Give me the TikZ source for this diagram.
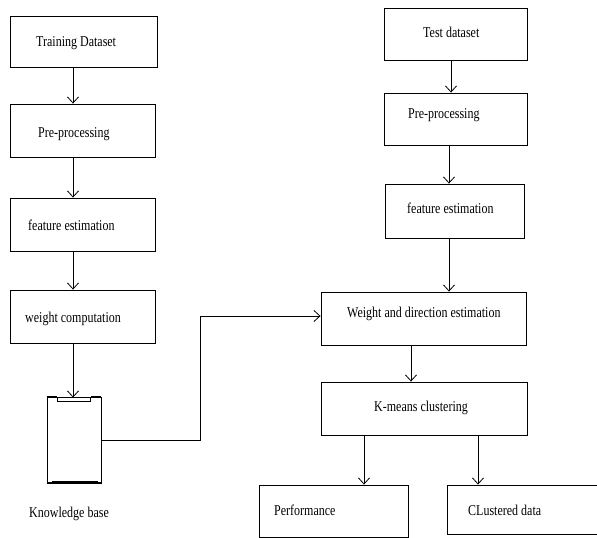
\documentclass[tikz,border=0pt]{standalone}
\usepackage{fontspec}
\setmainfont{Liberation Serif}[FakeStretch=0.8]
\usetikzlibrary{arrows.meta}
\begin{document}
\begin{tikzpicture}[x=1pt,y=-1pt,
  box/.style={draw,line width=0.9pt,minimum width=#1,inner sep=0pt},
  lbl/.style={anchor=base west,inner sep=0pt,font=\fontsize{15}{17}\selectfont},
  arr/.style={line width=0.8pt,-{Straight Barb[length=6pt,width=11pt,line width=0.8pt]}},
  ln/.style={line width=0.8pt}]
\useasboundingbox (0,0) rectangle (597,538);
% left column boxes
\node[box=147pt,minimum height=51pt] (td) at (83.5,41.5) {};
\node[box=145pt,minimum height=53pt] (pp1) at (82.5,130.5) {};
\node[box=145pt,minimum height=53pt] (fe1) at (82.5,224.5) {};
\node[box=145pt,minimum height=53pt] (wc) at (82.5,316.5) {};
% knowledge base
\node[box=54pt,minimum height=86pt] (kb) at (74,440) {};
\draw[line width=2pt] (kb.north west) -- ++(10,0) (kb.north east) -- ++(-10,0);
\draw[line width=0.7pt,fill=white] (57,397) rectangle (90,401.5);
\draw[line width=2pt] (kb.south west) -- (kb.south east);
\draw[line width=0.7pt] (52,481) -- (98,481);
% right column boxes
\node[box=143pt,minimum height=52pt] (ts) at (455.5,34) {};
\node[box=143pt,minimum height=52pt] (pp2) at (455.5,119) {};
\node[box=139pt,minimum height=54pt] (fe2) at (454.5,211) {};
\node[box=205pt,minimum height=53pt] (wd) at (423.5,318.5) {};
\node[box=206pt,minimum height=53pt] (km) at (424,408.5) {};
\node[box=149pt,minimum height=52pt] (perf) at (333.5,511) {};
\node[box=153pt,minimum height=49pt] (cl) at (523.5,509.5) {};
% labels
\node[lbl] (t1) at (36,46) {Training Dataset};
\node[lbl] (t2) at (38,137) {Pre-processing};
\node[lbl] (t3) at (28,230) {feature estimation};
\node[lbl] (t4) at (25,322) {weight computation};
\node[lbl] (t5) at (29,517) {Knowledge base};
\node[lbl] (t6) at (423,37) {Test dataset};
\node[lbl] (t7) at (408,118) {Pre-processing};
\node[lbl] (t8) at (407,213) {feature estimation};
\node[lbl] (t9) at (347,317) {Weight and direction estimation};
\node[lbl] (t10) at (374,411.5) {K-means clustering};
\node[lbl] (t11) at (274,515) {Performance};
\node[lbl] (t12) at (468,515) {CLustered data};
% helper coordinates
\coordinate (xl) at (73,0);
\coordinate (xr1) at (451,0);
\coordinate (xr2) at (449,0);
\coordinate (xr3) at (411,0);
\coordinate (xp) at (364,0);
\coordinate (xc) at (478,0);
\coordinate (b1) at (200,316);
% connectors
\draw[arr] (td.south -| xl) -- (pp1.north -| xl);
\draw[arr] (pp1.south -| xl) -- (fe1.north -| xl);
\draw[arr] (fe1.south -| xl) -- (wc.north -| xl);
\draw[arr] (wc.south -| xl) -- ([yshift=-1pt]kb.north -| xl);
\draw[arr] (ts.south -| xr1) -- (pp2.north -| xr1);
\draw[arr] (pp2.south -| xr2) -- (fe2.north -| xr2);
\draw[arr] (fe2.south -| xr2) -- (wd.north -| xr2);
\draw[arr] (wd.south -| xr3) -- (km.north -| xr3);
\draw[arr] (km.south -| xp) -- (perf.north -| xp);
\draw[arr] (km.south -| xc) -- (cl.north -| xc);
\draw[arr] (kb.east) -| (b1) -- (wd.west |- b1);
\end{tikzpicture}
\end{document}
